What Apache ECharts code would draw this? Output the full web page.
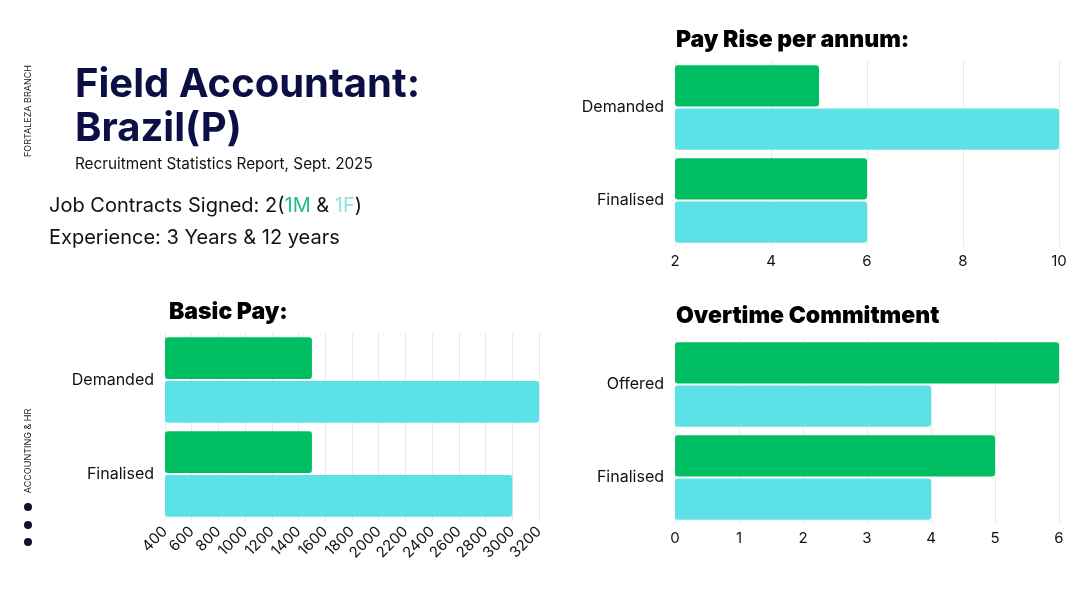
<!DOCTYPE html>
<html>
<head>
<meta charset="utf-8">
<script src="https://cdn.jsdelivr.net/npm/echarts@6.0.0/dist/echarts.min.js"></script>
<style>
  html, body { margin: 0; padding: 0; background: #fff; }
  #main { width: 1080px; height: 607px; }
</style>
</head>
<body>
<div id="main"></div>
<script>
// data
var payRiseRows = ['Demanded', 'Finalised'];
var payRiseM = [5, 6];
var payRiseF = [10, 6];

var basicPayRows = ['Demanded', 'Finalised'];
var basicPayM = [1500, 1500];
var basicPayF = [3200, 3000];

var overtimeRows = ['Offered', 'Finalised'];
var overtimeM = [6, 5];
var overtimeF = [4, 4];

var green = '#00bf63';
var cyan = '#5ce1e6';
var navy = '#0b0f45';
var font = 'Inter';

function valueAxis(grid, min, max, interval, rotate) {
    return {
        type: 'value', gridIndex: grid, min: min, max: max, interval: interval,
        axisLine: {show: false}, axisTick: {show: false},
        splitLine: {show: true, lineStyle: {color: '#e9e9e9', width: 1}},
        axisLabel: {
            color: '#111', fontSize: 15, fontFamily: font, margin: rotate ? 8 : 7, rotate: rotate || 0,
            hideOverlap: false, showMinLabel: true, showMaxLabel: true,
            formatter: function (v) { return String(v); }
        }
    };
}
function catAxis(grid, rows) {
    return {
        type: 'category', gridIndex: grid, data: rows, inverse: true,
        axisLine: {show: false}, axisTick: {show: false},
        axisLabel: {color: '#111', fontSize: 16, fontFamily: font, margin: 11}
    };
}
function bars(name, grid, data, color) {
    return {
        name: name, type: 'bar', xAxisIndex: grid, yAxisIndex: grid, data: data,
        barGap: '5%', barCategoryGap: '9%', silent: true,
        itemStyle: {color: color, borderRadius: 3}
    };
}

var titleStyle = {fontFamily: font, fontSize: 23, fontWeight: 900, color: '#000'};

var chart = echarts.init(document.getElementById('main'));
chart.setOption({
    backgroundColor: '#fff',
    animation: false,
    title: [
        {text: 'Pay Rise per annum:', left: 676, top: 29, padding: 0, textStyle: titleStyle},
        {text: 'Basic Pay:', left: 169, top: 301, padding: 0, textStyle: titleStyle},
        {text: 'Overtime Commitment', left: 676, top: 305, padding: 0, textStyle: titleStyle}
    ],
    grid: [
        {left: 675, right: 21, top: 61, height: 186},
        {left: 165, right: 541, top: 333, height: 188},
        {left: 675, right: 21, top: 338, height: 186}
    ],
    xAxis: [
        valueAxis(0, 2, 10, 2),
        valueAxis(1, 400, 3200, 200, 45),
        valueAxis(2, 0, 6, 1)
    ],
    yAxis: [
        catAxis(0, payRiseRows),
        catAxis(1, basicPayRows),
        catAxis(2, overtimeRows)
    ],
    series: [
        bars('M', 0, payRiseM, green),
        bars('F', 0, payRiseF, cyan),
        bars('M', 1, basicPayM, green),
        bars('F', 1, basicPayF, cyan),
        bars('M', 2, overtimeM, green),
        bars('F', 2, overtimeF, cyan)
    ],
    graphic: [
        {type: 'text', left: 75, top: 63, style: {text: 'Field Accountant:\nBrazil(P)', fill: navy, font: 'bold 40px Inter', lineHeight: 44}},
        {type: 'text', left: 75, top: 157, style: {text: 'Recruitment Statistics Report, Sept. 2025', fill: '#111', font: '15.3px Inter'}},
        {type: 'text', left: 49, top: 196, style: {
            text: 'Job Contracts Signed: 2({m|1M} & {f|1F})', fill: '#111', font: '20px Inter',
            rich: {m: {fill: '#1fbf7f', font: '20px Inter'}, f: {fill: '#8ee3e3', font: '20px Inter'}}
        }},
        {type: 'text', left: 49, top: 228, style: {text: 'Experience: 3 Years & 12 years', fill: '#111', font: '20px Inter'}},
        {type: 'text', x: 28, y: 111, rotation: Math.PI / 2, style: {text: 'FORTALEZA BRANCH', fill: '#222', font: '9px Inter', align: 'center', verticalAlign: 'middle'}},
        {type: 'text', x: 28, y: 451, rotation: Math.PI / 2, style: {text: 'ACCOUNTING & HR', fill: '#222', font: '9px Inter', align: 'center', verticalAlign: 'middle'}},
        {type: 'circle', shape: {cx: 28, cy: 507, r: 4}, style: {fill: '#0d1326'}},
        {type: 'circle', shape: {cx: 28, cy: 525, r: 4}, style: {fill: '#0d1326'}},
        {type: 'circle', shape: {cx: 28, cy: 542, r: 4}, style: {fill: '#0d1326'}}
    ]
});
</script>
</body>
</html>
